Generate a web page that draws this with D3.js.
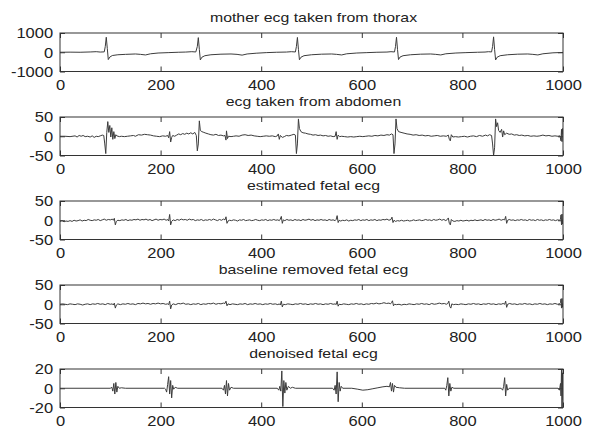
<!DOCTYPE html>
<html>
<head>
<meta charset="utf-8">
<script src="https://cdn.jsdelivr.net/npm/d3@7"></script>
<style>
body { margin: 0; background: #fff; }
svg text { font-family: "Liberation Sans", Arial, sans-serif; fill: #222; }
</style>
</head>
<body>
<div id="chart"></div>
<script>
const WIDTH = 590;
const HEIGHT = 431;
const LEFT = 60;
const RIGHT = 563;
const TOP = 33;
const PANEL_H = 38.5;
const STEP = 84;

const titles = [
    'mother ecg taken from thorax',
    'ecg taken from abdomen',
    'estimated fetal ecg',
    'baseline removed fetal ecg',
    'denoised fetal ecg'
];
const xTicks = [0, 200, 400, 600, 800, 1000];
const yTicks = [
    [-1000, 0, 1000],
    [-50, 0, 50],
    [-50, 0, 50],
    [-50, 0, 50],
    [-20, 0, 20]
];

// [sample, value] points
const motherEcg = [[0,0],[20,5],[40,0],[60,15],[72,30],[80,10],[88,20],[90,300],[92,780],[94,200],[96,-380],[99,-250],[104,-170],[115,-130],[130,-110],[150,-90],[160,-110],[170,-140],[180,-80],[195,-40],[215,-20],[235,0],[250,10],[262,30],[270,15],[273,300],[275,760],[277,150],[279,-400],[282,-260],[288,-180],[300,-130],[320,-100],[340,-90],[352,-110],[362,-150],[372,-90],[390,-50],[410,-20],[430,0],[450,10],[460,30],[468,15],[470,300],[472,770],[474,150],[476,-390],[479,-260],[485,-180],[500,-130],[520,-100],[540,-90],[550,-110],[560,-140],[570,-80],[590,-40],[610,-20],[630,0],[650,10],[658,30],[665,15],[667,300],[669,780],[671,150],[673,-380],[676,-250],[682,-180],[697,-130],[717,-100],[737,-90],[747,-110],[757,-140],[767,-80],[787,-40],[807,-20],[830,0],[845,10],[852,30],[858,15],[860,300],[862,800],[864,150],[866,-400],[869,-260],[875,-180],[890,-130],[910,-100],[930,-90],[940,-110],[950,-140],[960,-80],[980,-30],[1000,-10]];

const abdomenEcg = [[0,0],[10,0],[20,-1],[30,1],[34,-2],[38,2],[42,0],[46,2],[50,-1],[55,0],[60,-2],[64,1],[68,-3],[72,0],[76,-1],[80,1],[84,3],[87,2],[89,-20],[91,-45],[93,10],[95,38],[97,10],[99,28],[101,-2],[103,22],[105,-8],[107,12],[109,-6],[111,4],[113,1],[118,-1],[122,0],[128,-1],[134,0],[140,1],[146,2],[150,0],[156,4],[162,3],[168,5],[174,4],[180,3],[186,1],[192,0],[198,-1],[204,1],[210,0],[214,2],[216,-4],[218,12],[220,-15],[222,-3],[224,2],[228,0],[232,3],[236,6],[240,4],[244,7],[248,5],[252,8],[256,6],[260,9],[264,6],[268,10],[271,2],[273,-38],[275,-20],[277,40],[279,15],[282,12],[286,10],[290,8],[295,6],[300,4],[305,3],[310,5],[315,2],[320,3],[325,1],[328,2],[330,-10],[331,14],[333,-6],[335,0],[340,-1],[345,0],[350,1],[356,0],[362,3],[368,4],[374,2],[380,3],[386,1],[392,0],[398,-1],[404,0],[410,1],[416,0],[422,1],[428,-1],[432,1],[434,6],[436,-8],[438,2],[442,-3],[446,-1],[450,2],[455,1],[460,3],[465,5],[468,3],[470,-45],[472,-20],[474,45],[476,20],[479,12],[483,9],[488,8],[493,6],[498,5],[503,3],[508,4],[513,2],[518,3],[523,1],[528,2],[533,0],[538,1],[543,-1],[547,0],[549,12],[551,-8],[553,3],[556,-1],[560,0],[566,-1],[572,-2],[578,-1],[584,-2],[590,-1],[596,0],[602,-1],[608,0],[614,1],[620,0],[626,2],[632,1],[638,3],[644,2],[650,4],[655,3],[659,6],[662,4],[664,-45],[666,-20],[668,45],[670,20],[673,12],[678,10],[684,8],[690,6],[696,5],[702,3],[708,4],[714,2],[720,3],[726,1],[732,2],[738,0],[744,1],[750,2],[756,0],[762,1],[768,0],[772,3],[774,-8],[776,-12],[778,4],[781,-2],[786,-1],[792,-2],[798,-1],[804,0],[810,-2],[816,0],[822,1],[828,-1],[834,2],[840,0],[846,3],[850,1],[854,4],[858,2],[860,-20],[862,-50],[864,-30],[866,45],[868,25],[870,35],[872,15],[875,10],[878,18],[880,-2],[882,14],[884,4],[888,8],[893,5],[898,6],[903,3],[908,4],[913,2],[918,3],[924,1],[930,2],[936,0],[942,1],[948,0],[954,1],[960,3],[966,1],[972,2],[978,0],[984,1],[990,0],[994,1],[996,-12],[997,18],[998,-14],[999,20],[1000,5]];

const estimatedFetal = [[0,-3],[4,-1],[8,-4],[12,-2],[16,-3],[20,-1],[24,-3],[28,0],[32,-2],[36,-1],[40,1],[44,-2],[48,0],[52,-1],[56,2],[60,0],[64,-1],[68,1],[72,0],[76,2],[80,-1],[84,1],[88,3],[92,0],[96,2],[100,1],[104,3],[106,0],[108,5],[110,-12],[112,-3],[115,0],[119,-1],[123,1],[127,0],[131,2],[135,-1],[139,1],[143,0],[147,2],[151,1],[155,3],[159,0],[163,2],[167,1],[171,3],[175,0],[179,2],[183,-1],[187,1],[191,3],[195,0],[199,2],[203,1],[207,3],[211,0],[214,2],[216,-2],[218,15],[220,-12],[222,-3],[225,1],[229,-1],[233,2],[237,0],[241,3],[245,1],[249,2],[253,0],[257,3],[261,1],[265,2],[269,-1],[273,1],[277,0],[281,2],[285,-1],[289,1],[293,0],[297,2],[301,0],[305,3],[309,1],[313,-1],[317,2],[321,0],[325,3],[328,1],[330,9],[332,-8],[334,-2],[337,0],[341,-1],[345,1],[349,0],[353,-2],[357,1],[361,0],[365,2],[369,-1],[373,0],[377,1],[381,-1],[385,0],[389,2],[393,0],[397,-1],[401,1],[405,0],[409,2],[413,-1],[417,1],[421,0],[425,2],[429,0],[433,1],[436,-1],[438,3],[440,10],[442,-8],[444,1],[447,-1],[451,2],[455,0],[459,1],[463,-1],[467,2],[471,0],[475,1],[479,-1],[483,2],[487,0],[491,1],[495,3],[499,0],[503,2],[507,-1],[511,1],[515,0],[519,2],[523,0],[527,1],[531,-1],[535,2],[539,0],[543,1],[547,-1],[549,2],[551,12],[553,-6],[555,0],[558,-2],[562,0],[566,-1],[570,1],[574,-2],[578,0],[582,-1],[586,1],[590,0],[594,2],[598,-1],[602,1],[606,0],[610,2],[614,-1],[618,1],[622,0],[626,2],[630,-1],[634,1],[638,0],[642,2],[646,1],[650,3],[654,0],[658,2],[660,8],[662,-6],[664,0],[667,-3],[671,-1],[675,-2],[679,0],[683,-2],[687,-1],[691,0],[695,-2],[699,-1],[703,1],[707,-1],[711,0],[715,1],[719,-1],[723,0],[727,2],[731,0],[735,1],[739,-1],[743,2],[747,0],[751,1],[755,3],[759,0],[763,2],[767,-1],[770,2],[772,6],[774,-8],[776,-12],[778,2],[781,-2],[785,-3],[789,-1],[793,-2],[797,0],[801,-2],[805,-1],[809,0],[813,-2],[817,0],[821,-1],[825,1],[829,-1],[833,0],[837,1],[841,-1],[845,2],[849,0],[853,1],[857,-1],[861,2],[865,0],[869,1],[873,3],[877,0],[881,2],[884,1],[886,10],[888,-8],[890,0],[893,2],[897,0],[901,1],[905,-1],[909,1],[913,0],[917,2],[921,0],[925,1],[929,-1],[933,2],[937,0],[941,1],[945,-1],[949,2],[953,0],[957,1],[961,-1],[965,1],[969,0],[973,2],[977,0],[981,1],[985,-1],[989,1],[993,0],[995,3],[996,14],[997,-12],[998,16],[999,-10],[1000,2]];

const baselineRemoved = [[0,0],[5,1],[10,0],[15,-1],[20,1],[25,0],[30,-1],[35,1],[40,0],[45,-2],[50,0],[55,1],[60,-1],[65,1],[70,0],[75,2],[80,0],[85,1],[90,-1],[95,2],[100,0],[104,1],[106,-2],[108,3],[110,-10],[112,-2],[115,1],[120,-1],[125,1],[130,0],[135,2],[140,0],[145,1],[150,-1],[155,2],[160,1],[165,3],[170,1],[175,2],[180,0],[185,2],[190,1],[195,3],[200,1],[205,2],[210,0],[214,1],[216,-1],[218,8],[220,-12],[222,-2],[225,1],[230,-1],[235,2],[240,1],[245,3],[250,0],[255,1],[260,-1],[265,1],[270,0],[275,2],[280,-1],[285,1],[290,0],[295,2],[300,1],[305,3],[310,0],[315,2],[320,1],[325,3],[328,2],[330,8],[332,-4],[334,1],[338,-1],[343,1],[348,0],[353,-1],[358,1],[363,0],[368,2],[373,-1],[378,1],[383,0],[388,2],[393,0],[398,1],[403,-1],[408,1],[413,0],[418,2],[423,0],[428,1],[433,-1],[436,1],[438,-2],[440,8],[442,-7],[444,0],[448,-1],[453,1],[458,0],[463,-1],[468,1],[473,0],[478,2],[483,0],[488,1],[493,-1],[498,1],[503,0],[508,2],[513,0],[518,1],[523,-1],[528,1],[533,0],[538,2],[543,0],[547,1],[549,-1],[551,8],[553,-5],[555,0],[559,-1],[564,1],[569,0],[574,-1],[579,1],[584,0],[589,2],[594,0],[599,1],[604,-1],[609,1],[614,0],[619,2],[624,1],[629,3],[634,1],[639,2],[644,4],[649,2],[654,3],[657,1],[659,4],[661,9],[663,-4],[665,0],[669,-1],[674,0],[679,-2],[684,0],[689,-1],[694,1],[699,0],[704,-1],[709,1],[714,0],[719,2],[724,0],[729,1],[734,-1],[739,2],[744,0],[749,1],[754,3],[759,1],[764,2],[768,0],[771,2],[773,8],[775,-6],[777,-10],[779,1],[782,-1],[787,0],[792,-1],[797,1],[802,0],[807,-1],[812,1],[817,0],[822,2],[827,0],[832,1],[837,-1],[842,1],[847,0],[852,2],[857,0],[862,1],[867,-1],[872,1],[877,0],[881,2],[884,0],[886,8],[888,-8],[890,0],[894,2],[899,0],[904,1],[909,-1],[914,1],[919,0],[924,2],[929,0],[934,1],[939,-1],[944,1],[949,0],[954,2],[959,0],[964,1],[969,-1],[974,1],[979,0],[984,2],[989,0],[993,1],[995,4],[996,14],[997,-10],[998,15],[999,-8],[1000,3]];

const denoisedFetal = [[0,0],[100,0],[103,1],[105,-3],[107,5],[109,-6],[111,6],[113,-4],[115,2],[118,0],[122,0.5],[130,0],[208,0],[210,-1],[212,-4],[214,4],[216,12],[218,-6],[220,8],[222,-10],[224,3],[226,-1],[229,1],[234,0],[322,0],[325,-2],[327,3],[329,-6],[331,8],[333,-8],[335,5],[337,-2],[340,1],[345,0],[432,0],[435,-2],[437,2],[439,-3],[441,18],[443,-19],[445,8],[447,-5],[449,6],[451,-2],[454,2],[458,0],[462,1],[468,0],[542,0],[545,-2],[547,3],[549,-6],[551,17],[553,-14],[555,6],[557,-3],[559,2],[562,0],[580,0],[592,-1],[602,-2],[612,-1.5],[622,-0.5],[632,0.5],[642,1.5],[650,2],[655,1.5],[657,6],[659,-3],[661,5],[663,-4],[665,3],[668,1],[675,0.5],[685,0],[765,0],[767,-2],[769,3],[771,11],[773,-8],[775,5],[777,-3],[779,1],[783,0],[877,0],[880,-2],[882,2],[884,11],[886,-8],[888,4],[890,-2],[893,0],[990,0],[993,-2],[995,5],[996,-8],[997,19],[998,-20],[999,16],[1000,-12]];

const series = [motherEcg, abdomenEcg, estimatedFetal, baselineRemoved, denoisedFetal];

const LINE_COLOR = '#3c3c3c';
const AXIS_COLOR = '#333';
const TICK_LEN = 5;

const svg = d3.select('#chart')
    .append('svg')
    .attr('width', WIDTH)
    .attr('height', HEIGHT);

const xScale = d3.scaleLinear()
    .domain([0, 1000])
    .range([LEFT, RIGHT]);

// plain integer labels, ascii minus like MATLAB
const plainFormat = d => String(d);

// style the tick labels like the MATLAB output (slightly wide glyphs)
function styleAxis(g, labelScale) {
    g.select('.domain').remove();
    g.selectAll('line').attr('stroke', AXIS_COLOR);
    g.selectAll('text')
        .attr('fill', '#222')
        .style('font-size', '15px')
        .attr('transform', labelScale ? 'scale(1.1,1)' : null);
}

series.forEach((data, i) => {
    const top = TOP + i * STEP;
    const bottom = top + PANEL_H;
    const ticks = yTicks[i];

    const yScale = d3.scaleLinear()
        .domain([ticks[0], ticks[2]])
        .range([bottom, top]);

    const panel = svg.append('g');

    panel.append('clipPath')
        .attr('id', 'clip' + i)
        .append('rect')
        .attr('x', LEFT)
        .attr('y', top)
        .attr('width', RIGHT - LEFT)
        .attr('height', PANEL_H);

    // axes, ticks point inward on all four sides
    panel.append('g')
        .attr('transform', `translate(0,${bottom})`)
        .call(d3.axisBottom(xScale).tickValues(xTicks).tickSize(-TICK_LEN).tickPadding(7.5).tickFormat(plainFormat))
        .call(g => styleAxis(g, true));

    panel.append('g')
        .attr('transform', `translate(0,${top})`)
        .call(d3.axisTop(xScale).tickValues(xTicks).tickSize(-TICK_LEN).tickFormat(''))
        .call(g => styleAxis(g, false));

    panel.append('g')
        .attr('transform', `translate(${LEFT},0)`)
        .call(d3.axisLeft(yScale).tickValues(ticks).tickSize(-TICK_LEN).tickPadding(6.3).tickFormat(plainFormat))
        .call(g => styleAxis(g, true));

    panel.append('g')
        .attr('transform', `translate(${RIGHT},0)`)
        .call(d3.axisRight(yScale).tickValues(ticks).tickSize(-TICK_LEN).tickFormat(''))
        .call(g => styleAxis(g, false));

    // trace
    const line = d3.line()
        .x(d => xScale(d[0]))
        .y(d => yScale(d[1]));

    panel.append('path')
        .datum(data)
        .attr('clip-path', `url(#clip${i})`)
        .attr('fill', 'none')
        .attr('stroke', LINE_COLOR)
        .attr('stroke-width', 1)
        .attr('d', line);

    // frame
    panel.append('rect')
        .attr('x', LEFT)
        .attr('y', top)
        .attr('width', RIGHT - LEFT)
        .attr('height', PANEL_H)
        .attr('fill', 'none')
        .attr('stroke', AXIS_COLOR)
        .attr('stroke-width', 1);

    // title
    panel.append('text')
        .attr('transform', `translate(${(LEFT + RIGHT) / 2 + 2},${top - 11.5}) scale(1.22,1)`)
        .attr('text-anchor', 'middle')
        .style('font-size', '13px')
        .text(titles[i]);
});
</script>
</body>
</html>
